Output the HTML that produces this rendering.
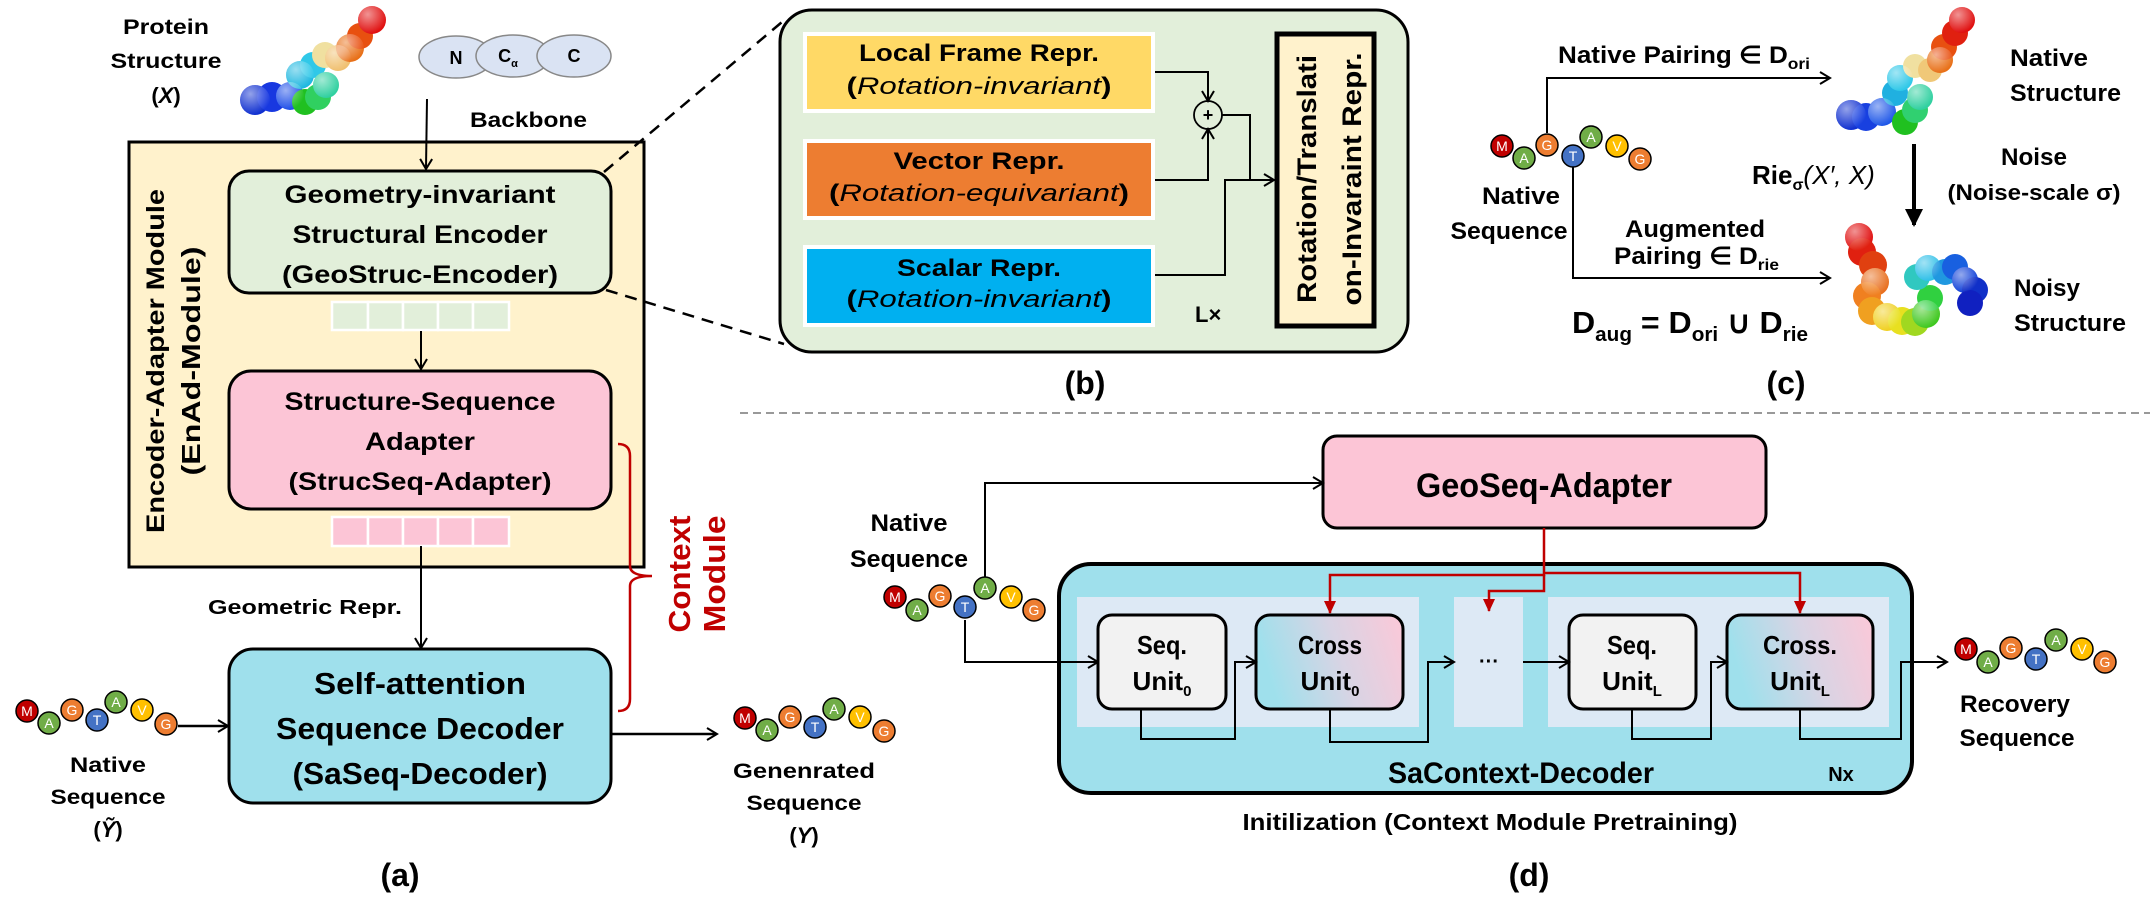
<!DOCTYPE html>
<html><head><meta charset="utf-8"><style>
html,body{margin:0;padding:0;background:#fff;}
svg{display:block;}
text{font-family:"Liberation Sans",sans-serif;font-weight:bold;fill:#000;}
.it{font-style:italic;font-weight:normal;}
.bd text{font-weight:normal;fill:#fff;font-size:14px;}
</style></head><body>
<svg width="2150" height="904" viewBox="0 0 2150 904" xmlns="http://www.w3.org/2000/svg">
<defs>
<marker id="ar" markerWidth="14" markerHeight="14" refX="11" refY="7" orient="auto" markerUnits="userSpaceOnUse">
<path d="M2,1 L12,7 L2,13" fill="none" stroke="#000" stroke-width="2"/></marker>
<marker id="arR" markerWidth="14" markerHeight="14" refX="12" refY="7" orient="auto" markerUnits="userSpaceOnUse">
<path d="M0,1 L13,7 L0,13 z" fill="#c00000"/></marker>
<marker id="arB" markerWidth="20" markerHeight="20" refX="16" refY="10" orient="auto" markerUnits="userSpaceOnUse">
<path d="M0,1 L18,10 L0,19 z" fill="#000"/></marker>
<linearGradient id="cg" x1="0" y1="0.2" x2="1" y2="0">
<stop offset="0" stop-color="#9fe0ec"/><stop offset="0.5" stop-color="#d8d4e4"/><stop offset="1" stop-color="#fcc8d8"/></linearGradient>
<radialGradient id="sh" cx="0.35" cy="0.3" r="0.7"><stop offset="0" stop-color="#fff" stop-opacity="0.55"/><stop offset="1" stop-color="#fff" stop-opacity="0"/></radialGradient>
</defs>

<!-- ============ PANEL A ============ -->
<text x="166" y="34" font-size="21" text-anchor="middle" textLength="86" lengthAdjust="spacingAndGlyphs">Protein</text>
<text x="166" y="68" font-size="21" text-anchor="middle" textLength="111" lengthAdjust="spacingAndGlyphs">Structure</text>
<text x="166" y="103" font-size="22" text-anchor="middle" font-family="Liberation Serif"><tspan font-weight="bold">(</tspan><tspan font-style="italic">X</tspan><tspan>)</tspan></text>

<g>
<circle cx="255" cy="100" r="15" fill="#1030d0"/><circle cx="272" cy="97" r="15" fill="#1838e0"/><circle cx="290" cy="96" r="14" fill="#2050e8"/>
<circle cx="305" cy="102" r="13" fill="#20c020"/><circle cx="318" cy="97" r="13" fill="#30d060"/>
<circle cx="300" cy="75" r="14" fill="#20b8e0"/><circle cx="313" cy="65" r="13" fill="#30c8e8"/>
<circle cx="326" cy="85" r="13" fill="#30d0a0"/>
<circle cx="325" cy="55" r="13" fill="#f0e0a0"/><circle cx="338" cy="58" r="13" fill="#f0c070"/>
<circle cx="350" cy="48" r="14" fill="#e87018"/><circle cx="360" cy="36" r="13" fill="#e85010"/>
<circle cx="372" cy="20" r="14" fill="#e01010"/>
<g fill="url(#sh)"><circle cx="255" cy="100" r="15"/><circle cx="290" cy="96" r="14"/><circle cx="300" cy="75" r="14"/><circle cx="326" cy="85" r="13"/><circle cx="338" cy="58" r="13"/><circle cx="350" cy="48" r="14"/><circle cx="372" cy="20" r="14"/></g>
</g>

<ellipse cx="456" cy="57" rx="37" ry="21" fill="#dae3f3" stroke="#888" stroke-width="1.5"/>
<ellipse cx="513" cy="56" rx="37" ry="21" fill="#dae3f3" stroke="#888" stroke-width="1.5"/>
<ellipse cx="574" cy="56" rx="37" ry="21" fill="#dae3f3" stroke="#888" stroke-width="1.5"/>
<text x="456" y="64" font-size="18" font-weight="normal" text-anchor="middle">N</text>
<text x="508" y="62" font-size="18" font-weight="normal" text-anchor="middle">C<tspan font-size="11" dy="5">α</tspan></text>
<text x="574" y="62" font-size="18" font-weight="normal" text-anchor="middle">C</text>
<text x="470" y="127" font-size="21" textLength="117" lengthAdjust="spacingAndGlyphs">Backbone</text>

<rect x="129" y="142" width="515" height="425" fill="#fff2cc" stroke="#000" stroke-width="3"/>
<line x1="427" y1="99" x2="426" y2="168" stroke="#000" stroke-width="2" marker-end="url(#ar)"/>
<text transform="translate(164,361) rotate(-90)" font-size="25" text-anchor="middle" textLength="344" lengthAdjust="spacingAndGlyphs">Encoder-Adapter Module</text>
<text transform="translate(200,361) rotate(-90)" font-size="26" text-anchor="middle" textLength="229" lengthAdjust="spacingAndGlyphs">(EnAd-Module)</text>

<rect x="229" y="171" width="382" height="122" rx="20" fill="#e2efda" stroke="#000" stroke-width="3"/>
<text x="420" y="203" font-size="25" text-anchor="middle" textLength="271" lengthAdjust="spacingAndGlyphs">Geometry-invariant</text>
<text x="420" y="243" font-size="25" text-anchor="middle" textLength="255" lengthAdjust="spacingAndGlyphs">Structural Encoder</text>
<text x="420" y="283" font-size="25" text-anchor="middle" textLength="276" lengthAdjust="spacingAndGlyphs">(GeoStruc-Encoder)</text>

<g fill="#e2efda" stroke="#fff" stroke-width="2.5">
<rect x="332" y="302" width="36" height="28"/><rect x="368" y="302" width="35" height="28"/><rect x="403" y="302" width="35" height="28"/><rect x="438" y="302" width="35" height="28"/><rect x="473" y="302" width="36" height="28"/></g>
<line x1="421" y1="331" x2="421" y2="368" stroke="#000" stroke-width="2" marker-end="url(#ar)"/>

<rect x="229" y="371" width="382" height="138" rx="22" fill="#fcc5d6" stroke="#000" stroke-width="3"/>
<text x="420" y="410" font-size="25" text-anchor="middle" textLength="271" lengthAdjust="spacingAndGlyphs">Structure-Sequence</text>
<text x="420" y="450" font-size="25" text-anchor="middle" textLength="110" lengthAdjust="spacingAndGlyphs">Adapter</text>
<text x="420" y="490" font-size="25" text-anchor="middle" textLength="263" lengthAdjust="spacingAndGlyphs">(StrucSeq-Adapter)</text>

<g fill="#fcc5d6" stroke="#fff" stroke-width="2.5">
<rect x="332" y="517" width="36" height="29"/><rect x="368" y="517" width="35" height="29"/><rect x="403" y="517" width="35" height="29"/><rect x="438" y="517" width="35" height="29"/><rect x="473" y="517" width="36" height="29"/></g>
<line x1="421" y1="546" x2="421" y2="647" stroke="#000" stroke-width="2" marker-end="url(#ar)"/>
<text x="208" y="614" font-size="20" textLength="194" lengthAdjust="spacingAndGlyphs">Geometric Repr.</text>

<rect x="229" y="649" width="382" height="154" rx="24" fill="#9fe0ec" stroke="#000" stroke-width="3"/>
<text x="420" y="694" font-size="31" text-anchor="middle" textLength="212" lengthAdjust="spacingAndGlyphs">Self-attention</text>
<text x="420" y="739" font-size="31" text-anchor="middle" textLength="288" lengthAdjust="spacingAndGlyphs">Sequence Decoder</text>
<text x="420" y="784" font-size="31" text-anchor="middle" textLength="255" lengthAdjust="spacingAndGlyphs">(SaSeq-Decoder)</text>

<path d="M618,444 Q630,444 630,456 L630,566 Q630,576 652,576 Q630,576 630,586 L630,699 Q630,711 618,711" fill="none" stroke="#c00000" stroke-width="2.5"/>
<text transform="translate(690,574) rotate(-90)" font-size="31" style="fill:#c00000" text-anchor="middle" textLength="117" lengthAdjust="spacingAndGlyphs">Context</text>
<text transform="translate(725,574) rotate(-90)" font-size="31" style="fill:#c00000" text-anchor="middle" textLength="117" lengthAdjust="spacingAndGlyphs">Module</text>

<g class="bd" transform="translate(15,692)">
<circle cx="12" cy="19" r="11" fill="#c00000" stroke="#000" stroke-width="1.5"/><text x="12" y="24" text-anchor="middle">M</text>
<circle cx="34" cy="31" r="11" fill="#70ad47" stroke="#000" stroke-width="1.5"/><text x="34" y="36" text-anchor="middle">A</text>
<circle cx="57" cy="18" r="11" fill="#ed7d31" stroke="#000" stroke-width="1.5"/><text x="57" y="23" text-anchor="middle">G</text>
<circle cx="82" cy="28" r="11" fill="#4472c4" stroke="#000" stroke-width="1.5"/><text x="82" y="33" text-anchor="middle">T</text>
<circle cx="101" cy="10" r="11" fill="#70ad47" stroke="#000" stroke-width="1.5"/><text x="101" y="15" text-anchor="middle">A</text>
<circle cx="127" cy="18" r="11" fill="#ffc000" stroke="#000" stroke-width="1.5"/><text x="127" y="23" text-anchor="middle">V</text>
<circle cx="151" cy="32" r="11" fill="#ed7d31" stroke="#000" stroke-width="1.5"/><text x="151" y="37" text-anchor="middle">G</text>
</g>
<line x1="178" y1="726" x2="227" y2="726" stroke="#000" stroke-width="2.5" marker-end="url(#ar)"/>
<text x="108" y="772" font-size="21" text-anchor="middle" textLength="76" lengthAdjust="spacingAndGlyphs">Native</text>
<text x="108" y="804" font-size="21" text-anchor="middle" textLength="115" lengthAdjust="spacingAndGlyphs">Sequence</text>
<text x="108" y="837" font-size="22" text-anchor="middle" font-family="Liberation Serif">(<tspan font-style="italic">Ỹ</tspan>)</text>

<line x1="611" y1="734" x2="716" y2="734" stroke="#000" stroke-width="2.5" marker-end="url(#ar)"/>
<g class="bd" transform="translate(733,699)">
<circle cx="12" cy="19" r="11" fill="#c00000" stroke="#000" stroke-width="1.5"/><text x="12" y="24" text-anchor="middle">M</text>
<circle cx="34" cy="31" r="11" fill="#70ad47" stroke="#000" stroke-width="1.5"/><text x="34" y="36" text-anchor="middle">A</text>
<circle cx="57" cy="18" r="11" fill="#ed7d31" stroke="#000" stroke-width="1.5"/><text x="57" y="23" text-anchor="middle">G</text>
<circle cx="82" cy="28" r="11" fill="#4472c4" stroke="#000" stroke-width="1.5"/><text x="82" y="33" text-anchor="middle">T</text>
<circle cx="101" cy="10" r="11" fill="#70ad47" stroke="#000" stroke-width="1.5"/><text x="101" y="15" text-anchor="middle">A</text>
<circle cx="127" cy="18" r="11" fill="#ffc000" stroke="#000" stroke-width="1.5"/><text x="127" y="23" text-anchor="middle">V</text>
<circle cx="151" cy="32" r="11" fill="#ed7d31" stroke="#000" stroke-width="1.5"/><text x="151" y="37" text-anchor="middle">G</text>
</g>
<text x="804" y="778" font-size="21" text-anchor="middle" textLength="142" lengthAdjust="spacingAndGlyphs">Genenrated</text>
<text x="804" y="810" font-size="21" text-anchor="middle" textLength="115" lengthAdjust="spacingAndGlyphs">Sequence</text>
<text x="804" y="843" font-size="22" text-anchor="middle" font-family="Liberation Serif">(<tspan font-style="italic">Y</tspan>)</text>
<text x="400" y="886" font-size="32" text-anchor="middle">(a)</text>

<line x1="604" y1="172" x2="782" y2="22" stroke="#000" stroke-width="2.5" stroke-dasharray="12,8"/>
<line x1="606" y1="290" x2="784" y2="344" stroke="#000" stroke-width="2.5" stroke-dasharray="12,8"/>

<!-- ============ PANEL B ============ -->
<rect x="780" y="10" width="628" height="342" rx="32" fill="#e2efda" stroke="#000" stroke-width="3"/>
<rect x="803" y="32" width="352" height="81" fill="#fff"/><rect x="807" y="36" width="344" height="73" fill="#ffd966"/>
<rect x="803" y="139" width="352" height="81" fill="#fff"/><rect x="807" y="143" width="344" height="73" fill="#ed7d31"/>
<rect x="803" y="245" width="352" height="82" fill="#fff"/><rect x="807" y="249" width="344" height="74" fill="#00b0f0"/>
<text x="979" y="61" font-size="24" text-anchor="middle" textLength="240" lengthAdjust="spacingAndGlyphs">Local Frame Repr.</text>
<text x="979" y="94" font-size="24" text-anchor="middle" textLength="265" lengthAdjust="spacingAndGlyphs">(<tspan class="it">Rotation-invariant</tspan>)</text>
<text x="979" y="169" font-size="24" text-anchor="middle" textLength="171" lengthAdjust="spacingAndGlyphs">Vector Repr.</text>
<text x="979" y="201" font-size="24" text-anchor="middle" textLength="300" lengthAdjust="spacingAndGlyphs">(<tspan class="it">Rotation-equivariant</tspan>)</text>
<text x="979" y="276" font-size="24" text-anchor="middle" textLength="164" lengthAdjust="spacingAndGlyphs">Scalar Repr.</text>
<text x="979" y="307" font-size="24" text-anchor="middle" textLength="265" lengthAdjust="spacingAndGlyphs">(<tspan class="it">Rotation-invariant</tspan>)</text>

<circle cx="1208" cy="115" r="14" fill="none" stroke="#000" stroke-width="1.8"/>
<text x="1208" y="121" font-size="18" font-weight="normal" text-anchor="middle">+</text>
<polyline points="1155,72 1208,72 1208,100" fill="none" stroke="#000" stroke-width="2" marker-end="url(#ar)"/>
<polyline points="1155,180 1208,180 1208,130" fill="none" stroke="#000" stroke-width="2" marker-end="url(#ar)"/>
<polyline points="1222,115 1250,115 1250,180" fill="none" stroke="#000" stroke-width="2"/>
<polyline points="1155,275 1225,275 1225,180 1273,180" fill="none" stroke="#000" stroke-width="2" marker-end="url(#ar)"/>
<text x="1195" y="322" font-size="22" font-weight="normal">L×</text>

<rect x="1277" y="34" width="97" height="292" fill="#fff2cc" stroke="#000" stroke-width="5"/>
<text transform="translate(1316,179) rotate(-90)" font-size="27" text-anchor="middle" textLength="248" lengthAdjust="spacingAndGlyphs">Rotation/Translati</text>
<text transform="translate(1361,179) rotate(-90)" font-size="27" text-anchor="middle" textLength="253" lengthAdjust="spacingAndGlyphs">on-Invaraint  Repr.</text>
<text x="1085" y="394" font-size="32" text-anchor="middle">(b)</text>

<!-- ============ PANEL C ============ -->
<text x="1558" y="63" font-size="24" textLength="252" lengthAdjust="spacingAndGlyphs">Native Pairing ∈ D<tspan font-size="16" dy="6">ori</tspan></text>
<polyline points="1547,133 1547,78 1829,78" fill="none" stroke="#000" stroke-width="2" marker-end="url(#ar)"/>
<polyline points="1573,165 1573,278 1829,278" fill="none" stroke="#000" stroke-width="2" marker-end="url(#ar)"/>
<g class="bd" transform="translate(1490,125)">
<circle cx="12" cy="21" r="11" fill="#c00000" stroke="#000" stroke-width="1.5"/><text x="12" y="26" text-anchor="middle">M</text>
<circle cx="34" cy="33" r="11" fill="#70ad47" stroke="#000" stroke-width="1.5"/><text x="34" y="38" text-anchor="middle">A</text>
<circle cx="57" cy="20" r="11" fill="#ed7d31" stroke="#000" stroke-width="1.5"/><text x="57" y="25" text-anchor="middle">G</text>
<circle cx="83" cy="31" r="11" fill="#4472c4" stroke="#000" stroke-width="1.5"/><text x="83" y="36" text-anchor="middle">T</text>
<circle cx="101" cy="12" r="11" fill="#70ad47" stroke="#000" stroke-width="1.5"/><text x="101" y="17" text-anchor="middle">A</text>
<circle cx="127" cy="21" r="11" fill="#ffc000" stroke="#000" stroke-width="1.5"/><text x="127" y="26" text-anchor="middle">V</text>
<circle cx="150" cy="34" r="11" fill="#ed7d31" stroke="#000" stroke-width="1.5"/><text x="150" y="39" text-anchor="middle">G</text>
</g>
<text x="1521" y="204" font-size="24" text-anchor="middle" textLength="78" lengthAdjust="spacingAndGlyphs">Native</text>
<text x="1509" y="239" font-size="24" text-anchor="middle" textLength="117" lengthAdjust="spacingAndGlyphs">Sequence</text>
<text x="1695" y="237" font-size="24" text-anchor="middle" textLength="140" lengthAdjust="spacingAndGlyphs">Augmented</text>
<text x="1614" y="264" font-size="24" textLength="165" lengthAdjust="spacingAndGlyphs">Pairing ∈ D<tspan font-size="16" dy="6">rie</tspan></text>
<text x="1572" y="333" font-size="31" textLength="236" lengthAdjust="spacingAndGlyphs">D<tspan font-size="20" dy="8">aug</tspan><tspan dy="-8"> = D</tspan><tspan font-size="20" dy="8">ori</tspan><tspan dy="-8"> ∪ D</tspan><tspan font-size="20" dy="8">rie</tspan></text>

<g>
<circle cx="1851" cy="115" r="15" fill="#1030d0"/><circle cx="1866" cy="117" r="14" fill="#1840e0"/><circle cx="1882" cy="112" r="14" fill="#2058e8"/>
<circle cx="1905" cy="122" r="13" fill="#20c020"/><circle cx="1915" cy="110" r="13" fill="#30d070"/><circle cx="1920" cy="97" r="13" fill="#30d0a0"/>
<circle cx="1895" cy="93" r="13" fill="#20b0e0"/><circle cx="1900" cy="78" r="13" fill="#30c8e8"/>
<circle cx="1915" cy="66" r="12" fill="#f0e0a0"/><circle cx="1930" cy="70" r="12" fill="#f0c878"/>
<circle cx="1940" cy="60" r="13" fill="#e87018"/><circle cx="1944" cy="47" r="13" fill="#e85010"/>
<circle cx="1955" cy="33" r="13" fill="#e02010"/><circle cx="1962" cy="20" r="13" fill="#e01010"/>
<g fill="url(#sh)"><circle cx="1851" cy="115" r="15"/><circle cx="1882" cy="112" r="14"/><circle cx="1900" cy="78" r="13"/><circle cx="1920" cy="97" r="13"/><circle cx="1940" cy="60" r="13"/><circle cx="1962" cy="20" r="13"/></g>
</g>
<text x="2010" y="66" font-size="24" textLength="78" lengthAdjust="spacingAndGlyphs">Native</text>
<text x="2010" y="101" font-size="24" textLength="111" lengthAdjust="spacingAndGlyphs">Structure</text>
<line x1="1914" y1="144" x2="1914" y2="225" stroke="#000" stroke-width="4" marker-end="url(#arB)"/>
<text x="1752" y="184" font-size="26" font-family="Liberation Serif">Rie<tspan font-size="16" dy="6">σ</tspan><tspan dy="-6" font-style="italic" font-weight="normal">(X′, X)</tspan></text>
<text x="2034" y="165" font-size="24" text-anchor="middle" textLength="66" lengthAdjust="spacingAndGlyphs">Noise</text>
<text x="2034" y="200" font-size="22" font-weight="normal" text-anchor="middle" textLength="173" lengthAdjust="spacingAndGlyphs">(Noise-scale σ)</text>

<g>
<circle cx="1859" cy="237" r="14" fill="#e01010"/><circle cx="1862" cy="252" r="14" fill="#e02010"/><circle cx="1873" cy="265" r="14" fill="#e04010"/>
<circle cx="1875" cy="282" r="14" fill="#e87020"/><circle cx="1867" cy="296" r="14" fill="#f08020"/>
<circle cx="1872" cy="311" r="14" fill="#f0a020"/><circle cx="1887" cy="317" r="14" fill="#f0d020"/><circle cx="1902" cy="321" r="14" fill="#e8e020"/>
<circle cx="1915" cy="322" r="14" fill="#a0d820"/><circle cx="1926" cy="314" r="14" fill="#40c820"/><circle cx="1930" cy="298" r="13" fill="#30d040"/>
<circle cx="1917" cy="277" r="13" fill="#30c8c0"/><circle cx="1928" cy="268" r="13" fill="#30c0e8"/><circle cx="1945" cy="272" r="13" fill="#2098e0"/>
<circle cx="1955" cy="267" r="13" fill="#1860e0"/><circle cx="1965" cy="280" r="13" fill="#1040d8"/><circle cx="1975" cy="290" r="13" fill="#1030c8"/><circle cx="1970" cy="303" r="13" fill="#1020c0"/>
<g fill="url(#sh)"><circle cx="1859" cy="237" r="14"/><circle cx="1875" cy="282" r="14"/><circle cx="1887" cy="317" r="14"/><circle cx="1926" cy="314" r="14"/><circle cx="1928" cy="268" r="13"/><circle cx="1965" cy="280" r="13"/></g>
</g>
<text x="2014" y="296" font-size="24" textLength="66" lengthAdjust="spacingAndGlyphs">Noisy</text>
<text x="2014" y="331" font-size="24" textLength="112" lengthAdjust="spacingAndGlyphs">Structure</text>
<text x="1786" y="394" font-size="32" text-anchor="middle">(c)</text>

<line x1="740" y1="413" x2="2150" y2="413" stroke="#999" stroke-width="2" stroke-dasharray="8,5"/>

<!-- ============ PANEL D ============ -->
<rect x="1323" y="436" width="443" height="92" rx="14" fill="#fcc5d6" stroke="#000" stroke-width="3"/>
<text x="1544" y="497" font-size="34" text-anchor="middle" textLength="256" lengthAdjust="spacingAndGlyphs">GeoSeq-Adapter</text>

<text x="909" y="531" font-size="24" text-anchor="middle" textLength="77" lengthAdjust="spacingAndGlyphs">Native</text>
<text x="909" y="567" font-size="24" text-anchor="middle" textLength="118" lengthAdjust="spacingAndGlyphs">Sequence</text>
<g class="bd" transform="translate(883,578)">
<circle cx="12" cy="19" r="11" fill="#c00000" stroke="#000" stroke-width="1.5"/><text x="12" y="24" text-anchor="middle">M</text>
<circle cx="34" cy="32" r="11" fill="#70ad47" stroke="#000" stroke-width="1.5"/><text x="34" y="37" text-anchor="middle">A</text>
<circle cx="57" cy="18" r="11" fill="#ed7d31" stroke="#000" stroke-width="1.5"/><text x="57" y="23" text-anchor="middle">G</text>
<circle cx="82" cy="29" r="11" fill="#4472c4" stroke="#000" stroke-width="1.5"/><text x="82" y="34" text-anchor="middle">T</text>
<circle cx="102" cy="10" r="11" fill="#70ad47" stroke="#000" stroke-width="1.5"/><text x="102" y="15" text-anchor="middle">A</text>
<circle cx="128" cy="19" r="11" fill="#ffc000" stroke="#000" stroke-width="1.5"/><text x="128" y="24" text-anchor="middle">V</text>
<circle cx="151" cy="32" r="11" fill="#ed7d31" stroke="#000" stroke-width="1.5"/><text x="151" y="37" text-anchor="middle">G</text>
</g>
<polyline points="985,577 985,483 1322,483" fill="none" stroke="#000" stroke-width="2" marker-end="url(#ar)"/>

<rect x="1059" y="564" width="853" height="229" rx="32" fill="#9fe0ec" stroke="#000" stroke-width="4"/>
<rect x="1077" y="597" width="342" height="130" fill="#dde9f5"/>
<rect x="1454" y="597" width="69" height="130" fill="#dde9f5"/>
<rect x="1548" y="597" width="341" height="130" fill="#dde9f5"/>

<polyline points="965,620 965,662 1097,662" fill="none" stroke="#000" stroke-width="2" marker-end="url(#ar)"/>

<rect x="1098" y="615" width="128" height="94" rx="14" fill="#f2f2f2" stroke="#000" stroke-width="3"/>
<rect x="1256" y="615" width="147" height="94" rx="14" fill="url(#cg)" stroke="#000" stroke-width="3"/>
<rect x="1569" y="615" width="127" height="94" rx="14" fill="#f2f2f2" stroke="#000" stroke-width="3"/>
<rect x="1727" y="615" width="146" height="94" rx="14" fill="url(#cg)" stroke="#000" stroke-width="3"/>

<g font-size="26">
<text x="1162" y="654" text-anchor="middle" textLength="50" lengthAdjust="spacingAndGlyphs">Seq.</text>
<text x="1162" y="690" text-anchor="middle">Unit<tspan font-size="15" dy="6">0</tspan></text>
<text x="1330" y="654" text-anchor="middle" textLength="64" lengthAdjust="spacingAndGlyphs">Cross</text>
<text x="1330" y="690" text-anchor="middle">Unit<tspan font-size="15" dy="6">0</tspan></text>
<text x="1632" y="654" text-anchor="middle" textLength="50" lengthAdjust="spacingAndGlyphs">Seq.</text>
<text x="1632" y="690" text-anchor="middle">Unit<tspan font-size="15" dy="6">L</tspan></text>
<text x="1800" y="654" text-anchor="middle" textLength="74" lengthAdjust="spacingAndGlyphs">Cross.</text>
<text x="1800" y="690" text-anchor="middle">Unit<tspan font-size="15" dy="6">L</tspan></text>
</g>
<text x="1489" y="668" font-size="20" font-weight="normal" text-anchor="middle">···</text>

<polyline points="1141,709 1141,739 1235,739 1235,662 1255,662" fill="none" stroke="#000" stroke-width="2" marker-end="url(#ar)"/>
<polyline points="1330,709 1330,742 1428,742 1428,662 1453,662" fill="none" stroke="#000" stroke-width="2" marker-end="url(#ar)"/>
<polyline points="1523,662 1568,662" fill="none" stroke="#000" stroke-width="2" marker-end="url(#ar)"/>
<polyline points="1632,709 1632,739 1711,739 1711,662 1726,662" fill="none" stroke="#000" stroke-width="2" marker-end="url(#ar)"/>
<polyline points="1800,709 1800,739 1901,739 1901,662 1946,662" fill="none" stroke="#000" stroke-width="2" marker-end="url(#ar)"/>

<polyline points="1544,528 1544,575 1330,575 1330,613" fill="none" stroke="#c00000" stroke-width="2.5" marker-end="url(#arR)"/>
<polyline points="1544,573 1800,573 1800,613" fill="none" stroke="#c00000" stroke-width="2.5" marker-end="url(#arR)"/>
<polyline points="1544,575 1544,591 1489,591 1489,611" fill="none" stroke="#c00000" stroke-width="2.5" marker-end="url(#arR)"/>

<text x="1521" y="783" font-size="30" text-anchor="middle" textLength="266" lengthAdjust="spacingAndGlyphs">SaContext-Decoder</text>
<text x="1841" y="781" font-size="20" font-weight="normal" text-anchor="middle">Nx</text>
<text x="1490" y="830" font-size="23" text-anchor="middle" textLength="495" lengthAdjust="spacingAndGlyphs">Initilization (Context Module Pretraining)</text>

<g class="bd" transform="translate(1954,630)">
<circle cx="12" cy="19" r="11" fill="#c00000" stroke="#000" stroke-width="1.5"/><text x="12" y="24" text-anchor="middle">M</text>
<circle cx="34" cy="32" r="11" fill="#70ad47" stroke="#000" stroke-width="1.5"/><text x="34" y="37" text-anchor="middle">A</text>
<circle cx="57" cy="18" r="11" fill="#ed7d31" stroke="#000" stroke-width="1.5"/><text x="57" y="23" text-anchor="middle">G</text>
<circle cx="82" cy="29" r="11" fill="#4472c4" stroke="#000" stroke-width="1.5"/><text x="82" y="34" text-anchor="middle">T</text>
<circle cx="102" cy="10" r="11" fill="#70ad47" stroke="#000" stroke-width="1.5"/><text x="102" y="15" text-anchor="middle">A</text>
<circle cx="128" cy="19" r="11" fill="#ffc000" stroke="#000" stroke-width="1.5"/><text x="128" y="24" text-anchor="middle">V</text>
<circle cx="151" cy="32" r="11" fill="#ed7d31" stroke="#000" stroke-width="1.5"/><text x="151" y="37" text-anchor="middle">G</text>
</g>
<text x="2015" y="712" font-size="24" text-anchor="middle" textLength="110" lengthAdjust="spacingAndGlyphs">Recovery</text>
<text x="2017" y="746" font-size="24" text-anchor="middle" textLength="115" lengthAdjust="spacingAndGlyphs">Sequence</text>
<text x="1529" y="886" font-size="32" text-anchor="middle">(d)</text>
</svg>
</body></html>
